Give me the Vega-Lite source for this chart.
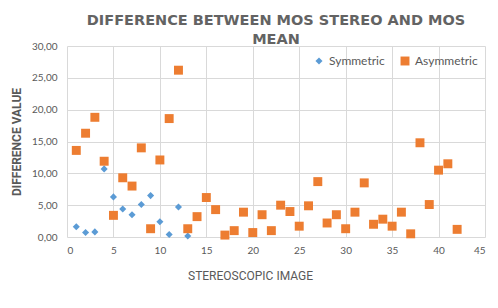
{
  "$schema": "https://vega.github.io/schema/vega-lite/v6.json",
  "width": 418,
  "height": 191,
  "autosize": {"type": "none"},
  "padding": {"left": 67, "top": 46, "right": 13, "bottom": 71},
  "background": "white",
  "title": {
    "text": ["DIFFERENCE BETWEEN MOS STEREO AND MOS", "MEAN"],
    "font": "DejaVu Sans",
    "fontSize": 14.5,
    "fontWeight": "bold",
    "color": "#636363",
    "anchor": "middle",
    "dx": 0,
    "lineHeight": 19,
    "offset": -6
  },
  "data": {
    "values": [
      {"image": 1, "series": "Symmetric", "diff": 1.6},
      {"image": 2, "series": "Symmetric", "diff": 0.7},
      {"image": 3, "series": "Symmetric", "diff": 0.8},
      {"image": 4, "series": "Symmetric", "diff": 10.7},
      {"image": 5, "series": "Symmetric", "diff": 6.3},
      {"image": 6, "series": "Symmetric", "diff": 4.4},
      {"image": 7, "series": "Symmetric", "diff": 3.5},
      {"image": 8, "series": "Symmetric", "diff": 5.1},
      {"image": 9, "series": "Symmetric", "diff": 6.5},
      {"image": 10, "series": "Symmetric", "diff": 2.4},
      {"image": 11, "series": "Symmetric", "diff": 0.4},
      {"image": 12, "series": "Symmetric", "diff": 4.7},
      {"image": 13, "series": "Symmetric", "diff": 0.15},
      {"image": 1, "series": "Asymmetric", "diff": 13.6},
      {"image": 2, "series": "Asymmetric", "diff": 16.3},
      {"image": 3, "series": "Asymmetric", "diff": 18.8},
      {"image": 4, "series": "Asymmetric", "diff": 11.9},
      {"image": 5, "series": "Asymmetric", "diff": 3.4},
      {"image": 6, "series": "Asymmetric", "diff": 9.3},
      {"image": 7, "series": "Asymmetric", "diff": 8.0},
      {"image": 8, "series": "Asymmetric", "diff": 14.0},
      {"image": 9, "series": "Asymmetric", "diff": 1.3},
      {"image": 10, "series": "Asymmetric", "diff": 12.1},
      {"image": 11, "series": "Asymmetric", "diff": 18.6},
      {"image": 12, "series": "Asymmetric", "diff": 26.2},
      {"image": 13, "series": "Asymmetric", "diff": 1.3},
      {"image": 14, "series": "Asymmetric", "diff": 3.2},
      {"image": 15, "series": "Asymmetric", "diff": 6.2},
      {"image": 16, "series": "Asymmetric", "diff": 4.3},
      {"image": 17, "series": "Asymmetric", "diff": 0.3},
      {"image": 18, "series": "Asymmetric", "diff": 1.0},
      {"image": 19, "series": "Asymmetric", "diff": 3.9},
      {"image": 20, "series": "Asymmetric", "diff": 0.7},
      {"image": 21, "series": "Asymmetric", "diff": 3.5},
      {"image": 22, "series": "Asymmetric", "diff": 1.0},
      {"image": 23, "series": "Asymmetric", "diff": 5.0},
      {"image": 24, "series": "Asymmetric", "diff": 4.0},
      {"image": 25, "series": "Asymmetric", "diff": 1.7},
      {"image": 26, "series": "Asymmetric", "diff": 4.9},
      {"image": 27, "series": "Asymmetric", "diff": 8.7},
      {"image": 28, "series": "Asymmetric", "diff": 2.2},
      {"image": 29, "series": "Asymmetric", "diff": 3.5},
      {"image": 30, "series": "Asymmetric", "diff": 1.3},
      {"image": 31, "series": "Asymmetric", "diff": 3.9},
      {"image": 32, "series": "Asymmetric", "diff": 8.5},
      {"image": 33, "series": "Asymmetric", "diff": 2.0},
      {"image": 34, "series": "Asymmetric", "diff": 2.8},
      {"image": 35, "series": "Asymmetric", "diff": 1.7},
      {"image": 36, "series": "Asymmetric", "diff": 3.9},
      {"image": 37, "series": "Asymmetric", "diff": 0.5},
      {"image": 38, "series": "Asymmetric", "diff": 14.8},
      {"image": 39, "series": "Asymmetric", "diff": 5.1},
      {"image": 40, "series": "Asymmetric", "diff": 10.5},
      {"image": 41, "series": "Asymmetric", "diff": 11.5},
      {"image": 42, "series": "Asymmetric", "diff": 1.2}
    ]
  },
  "mark": {"type": "point", "filled": true, "opacity": 1},
  "encoding": {
    "x": {
      "field": "image",
      "type": "quantitative",
      "scale": {"domain": [0, 45], "nice": false},
      "axis": {
        "values": [0, 5, 10, 15, 20, 25, 30, 35, 40, 45],
        "title": "STEREOSCOPIC IMAGE",
        "titleFont": "Roboto",
        "titleFontSize": 12,
        "titleFontWeight": "normal",
        "titleColor": "#595959",
        "titlePadding": 15,
        "titleX": 183,
        "labelFont": "Lato",
        "labelFontSize": 10,
        "labelColor": "#595959",
        "labelPadding": 8,
        "domain": false,
        "ticks": false,
        "gridColor": "#D9D9D9"
      }
    },
    "y": {
      "field": "diff",
      "type": "quantitative",
      "scale": {"domain": [0, 30], "nice": false},
      "axis": {
        "values": [0, 5, 10, 15, 20, 25, 30],
        "labelExpr": "replace(format(datum.value, '.2f'), '.', ',')",
        "title": "DIFFERENCE VALUE",
        "titleFont": "Roboto",
        "titleFontSize": 12,
        "titleFontWeight": "bold",
        "titleColor": "#595959",
        "titlePadding": 8,
        "labelFont": "Lato",
        "labelFontSize": 10,
        "labelColor": "#595959",
        "labelPadding": 10,
        "domain": false,
        "ticks": false,
        "gridColor": "#D9D9D9"
      }
    },
    "color": {
      "field": "series",
      "type": "nominal",
      "scale": {"domain": ["Symmetric", "Asymmetric"], "range": ["#5B9BD5", "#ED7D31"]},
      "legend": {
        "title": null,
        "orient": "none",
        "legendX": 246,
        "legendY": 9,
        "direction": "horizontal",
        "labelFont": "Lato",
        "labelFontSize": 12,
        "labelColor": "#595959",
        "symbolSize": 40,
        "columnPadding": 14
      }
    },
    "shape": {
      "field": "series",
      "type": "nominal",
      "scale": {"domain": ["Symmetric", "Asymmetric"], "range": ["diamond", "square"]}
    },
    "size": {
      "field": "series",
      "type": "nominal",
      "scale": {"domain": ["Symmetric", "Asymmetric"], "range": [50, 80]},
      "legend": null
    }
  },
  "config": {"view": {"stroke": null}}
}
